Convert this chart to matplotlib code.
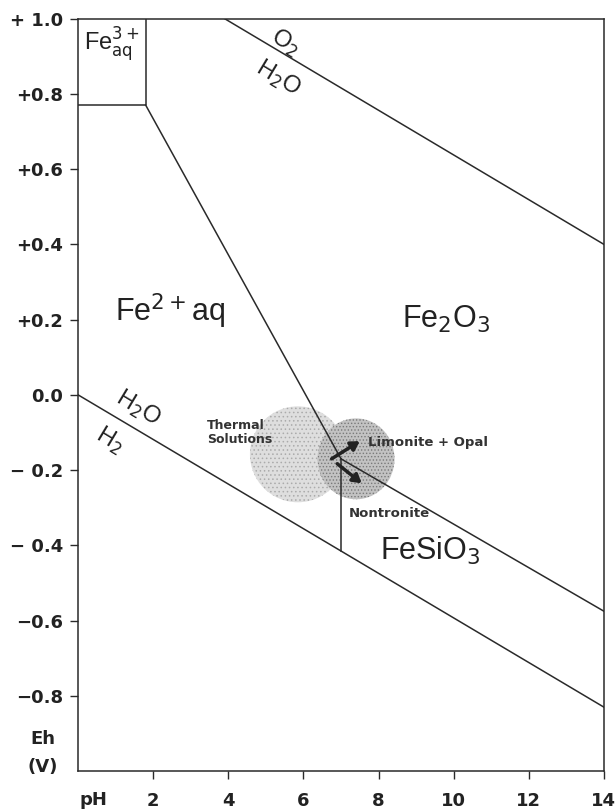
import matplotlib.pyplot as plt
from matplotlib.patches import Ellipse

plt.rcParams['font.family'] = ['Liberation Sans', 'DejaVu Sans']
plt.rcParams['hatch.linewidth'] = 0.6

# boundary lines (pH, Eh)
o2_ph = [3.9, 14.0]
o2_eh = [1.0, 0.40]
h2_ph = [0.0, 14.0]
h2_eh = [0.0, -0.83]
fe3_ph = [0.0, 1.8, 1.8]
fe3_eh = [0.77, 0.77, 1.0]
fe2_ph = [1.8, 7.0]
fe2_eh = [0.77, -0.17]
fesio3_ph = [7.0, 14.0]
fesio3_eh = [-0.17, -0.575]
vert_ph = [7.0, 7.0]
vert_eh = [-0.17, -0.414]

yticks = [1.0, 0.8, 0.6, 0.4, 0.2, 0.0, -0.2, -0.4, -0.6, -0.8]
ytick_labels = ['+ 1.0', '+0.8', '+0.6', '+0.4', '+0.2', '0.0',
                '\u2212 0.2', '\u2212 0.4', '\u22120.6', '\u22120.8']
xticks = [2, 4, 6, 8, 10, 12, 14]

fig = plt.figure(figsize=(6.15, 8.1), dpi=100)
ax = fig.add_axes([0.127, 0.048, 0.855, 0.929])
ax.set_xlim(0, 14)
ax.set_ylim(-1.0, 1.0)

# stippled fields
ax.add_patch(Ellipse((5.85, -0.158), 2.55, 0.255, facecolor='#dedede',
                     edgecolor='#ababab', linewidth=0, hatch='....', zorder=1))
ax.add_patch(Ellipse((7.4, -0.17), 2.05, 0.215, facecolor='#c2c2c2',
                     edgecolor='#7a7a7a', linewidth=0, hatch='.....', zorder=1.5))

lw = 1.1
c = '#2a2a2a'
for xs, ys in [(o2_ph, o2_eh), (h2_ph, h2_eh), (fe3_ph, fe3_eh),
               (fe2_ph, fe2_eh), (fesio3_ph, fesio3_eh), (vert_ph, vert_eh)]:
    ax.plot(xs, ys, color=c, lw=lw, zorder=3)

for s in ax.spines.values():
    s.set_linewidth(lw)
    s.set_color(c)

ax.set_yticks(yticks)
ax.set_yticklabels(ytick_labels)
ax.set_xticks(xticks)
ax.set_xticklabels([str(t) for t in xticks])
ax.tick_params(direction='out', length=6, width=1, colors=c, labelsize=13)
ax.tick_params(axis='x', pad=9)
ax.tick_params(axis='y', pad=5)
for lab in ax.get_xticklabels() + ax.get_yticklabels():
    lab.set_fontfamily('DejaVu Sans')
    lab.set_fontweight('bold')
    lab.set_color('#222222')

kw = dict(color='#222222', ha='center', va='center')
bold = dict(fontsize=13, fontweight='bold', family='DejaVu Sans', clip_on=False)
ax.text(0.4, -1.078, 'pH', **bold, **kw)
ax.text(-0.93, -0.914, 'Eh', **bold, **kw)
ax.text(-0.93, -0.99, '(V)', **bold, **kw)

ax.text(0.9, 0.93, r'Fe$^{3+}_{\mathrm{aq}}$', fontsize=17, **kw)
ax.text(5.52, 0.936, r'O$_2$', fontsize=17, rotation=-31, **kw)
ax.text(5.33, 0.842, r'H$_2$O', fontsize=17, rotation=-31, **kw)
ax.text(1.6, -0.037, r'H$_2$O', fontsize=17, rotation=-31, **kw)
ax.text(0.85, -0.12, r'H$_2$', fontsize=17, rotation=-31, **kw)
ax.text(2.45, 0.222, r'Fe$^{2+}$aq', fontsize=22, **kw)
ax.text(9.79, 0.2, r'Fe$_2$O$_3$', fontsize=22, **kw)
ax.text(9.39, -0.414, r'FeSiO$_3$', fontsize=22, **kw)

small = dict(fontweight='bold', family='DejaVu Sans',
             color='#333333', ha='left', va='center', zorder=5)
ax.text(3.44, -0.10, 'Thermal\nSolutions', fontsize=9, linespacing=1.15, **small)
ax.text(7.71, -0.126, 'Limonite + Opal', fontsize=9.5, **small)
ax.text(7.2, -0.316, 'Nontronite', fontsize=9.5, **small)

arrow = dict(arrowstyle='-|>,head_length=0.5,head_width=0.3', color='#222222',
             lw=2.5, shrinkA=0, shrinkB=0)
ax.annotate('', xy=(7.5, -0.123), xytext=(6.75, -0.17), arrowprops=arrow, zorder=4)
ax.annotate('', xy=(7.55, -0.235), xytext=(6.9, -0.183), arrowprops=arrow, zorder=4)

fig.savefig('out.png', dpi=100)
